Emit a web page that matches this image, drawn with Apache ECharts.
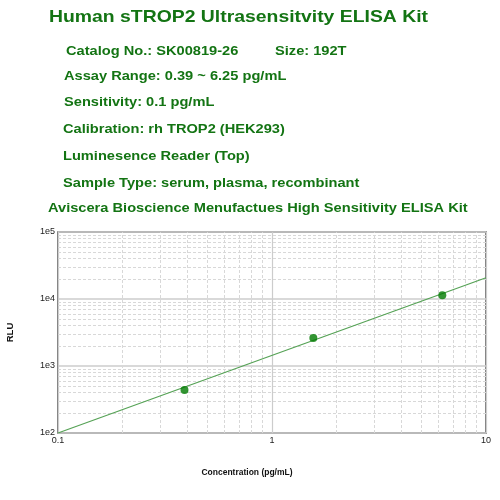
<!DOCTYPE html>
<html><head><meta charset="utf-8">
<script src="https://cdn.jsdelivr.net/npm/echarts@6/dist/echarts.min.js"></script>
<style>html,body{margin:0;padding:0;background:#fff}#c{width:500px;height:500px}</style>
</head><body><div id="c"></div>
<script>
const concentrations = [0.39, 1.56, 6.25];
const rluValues = [440, 2620, 11350];
const fitConc = [0.1, 10];
const fitRlu = [100, 20800];
const xMinorTicks = [0.2,0.3,0.4,0.5,0.6,0.7,0.8,0.9,2,3,4,5,6,7,8,9];
const yMinorTicks = [200,300,400,500,600,700,800,900,2000,3000,4000,5000,6000,7000,8000,9000,20000,30000,40000,50000,60000,70000,80000,90000];
const headerLines = [
  {t:'Human sTROP2 Ultrasensitvity ELISA Kit', x:49, y:17, s:17, k:1.14},
  {t:'Catalog No.: SK00819-26', x:66, y:51, s:13, k:1.125},
  {t:'Size: 192T', x:275, y:51, s:13, k:1.125},
  {t:'Assay Range: 0.39 ~ 6.25 pg/mL', x:64, y:76, s:13, k:1.125},
  {t:'Sensitivity: 0.1 pg/mL', x:64, y:102, s:13, k:1.125},
  {t:'Calibration: rh TROP2 (HEK293)', x:63, y:129, s:13, k:1.125},
  {t:'Luminesence Reader (Top)', x:63, y:156, s:13, k:1.125},
  {t:'Sample Type: serum, plasma, recombinant', x:63, y:183, s:13, k:1.125},
  {t:'Aviscera Bioscience Menufactues High Sensitivity ELISA Kit', x:48, y:208, s:13, k:1.125}
];
const chart = echarts.init(document.getElementById('c'));
const font = '"Liberation Sans", Arial, sans-serif';
chart.setOption({
  animation:false,
  graphic: headerLines.map(h=>({type:'text', x:h.x, y:h.y, scaleX:h.k,
    style:{text:h.t, fill:'#137413', font:'bold '+h.s+'px '+font, textVerticalAlign:'middle', verticalAlign:'middle'}})),
  grid:{left:58, right:14, top:232, bottom:67, containLabel:false, outerBoundsMode:'none', show:true, borderColor:'#555', borderWidth:1.5, backgroundColor:'transparent'},
  xAxis:{type:'log', logBase:10, min:0.1, max:10, interval:1,
    name:'Concentration (pg/mL)', nameLocation:'middle', nameGap:35,
    nameTextStyle:{fontFamily:font, fontWeight:'bold', fontSize:8.5, color:'#111', padding:[0,50,0,0]},
    axisLine:{show:false}, axisTick:{show:false},
    axisLabel:{fontFamily:font, fontSize:9, color:'#222', margin:3},
    splitLine:{show:true, lineStyle:{color:'#ccc', width:1.2}}},
  yAxis:{type:'log', logBase:10, min:100, max:100000, interval:1,
    name:'RLU', nameLocation:'middle', nameGap:43, nameRotate:90,
    nameTextStyle:{fontFamily:font, fontWeight:'bold', fontSize:9.5, color:'#111'},
    axisLine:{show:false}, axisTick:{show:false},
    axisLabel:{fontFamily:font, fontSize:9, color:'#222', margin:3, formatter:v=>'1e'+Math.round(Math.log10(v))},
    splitLine:{show:true, lineStyle:{color:'#ccc', width:1.5}}},
  series:[
    {type:'line', data:[], z:1, silent:true,
      markLine:{silent:true, z:1, symbol:'none', label:{show:false}, animation:false,
        lineStyle:{color:'#d8d8d8', type:[3,2], width:1},
        data: xMinorTicks.map(v=>({xAxis:v})).concat(yMinorTicks.map(v=>({yAxis:v})))}},
    {type:'line', data:fitConc.map((c,i)=>[c,fitRlu[i]]), z:3, symbol:'none', lineStyle:{color:'#55a255', width:1.2}},
    {type:'scatter', data:concentrations.map((c,i)=>[c,rluValues[i]]), z:4, symbolSize:8, itemStyle:{color:'#007a00'}}
  ]
});
</script></body></html>
